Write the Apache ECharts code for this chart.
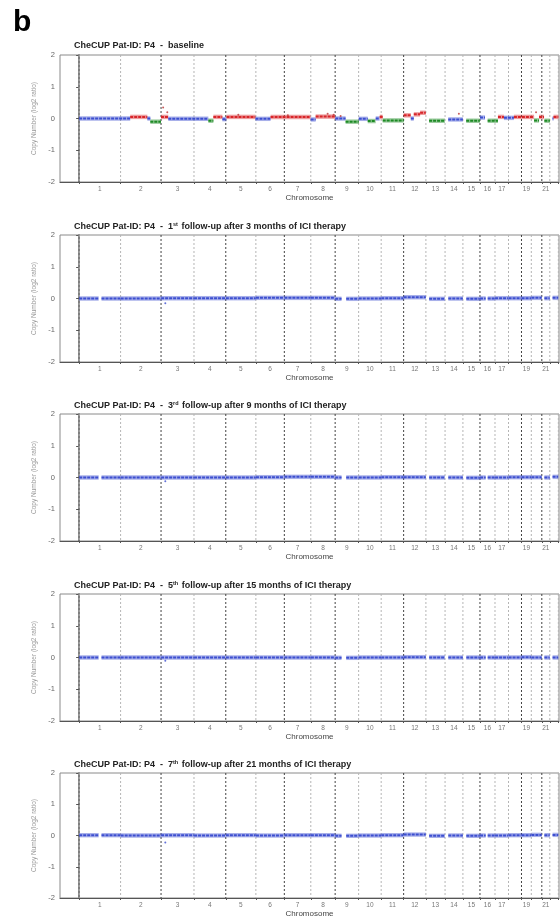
<!DOCTYPE html>
<html>
<head>
<meta charset="utf-8">
<script src="https://cdn.jsdelivr.net/npm/echarts@6/dist/echarts.min.js"></script>
<style>html,body{margin:0;padding:0;background:#fff;}#c{width:560px;height:919px;}</style>
</head>
<body>
<div id="c"></div>
<script>
// ---------- data ----------
const CHR_NAMES = ['1','2','3','4','5','6','7','8','9','10','11','12','13','14','15','16','17','18','19','20','21','22'];
const CHR_LEN_MB = [249.25,243.20,198.02,191.15,180.92,171.12,159.14,146.36,141.21,135.53,135.01,133.85,115.17,107.35,102.53,90.35,81.20,78.08,59.13,63.03,48.13,51.30];
const SHOWN_LABELS = ['1','2','3','4','5','6','7','8','9','10','11','12','13','14','15','16','17','19','21'];
const DARK_BOUNDARIES = [2,4,6,8,11,15,18,20]; // boundary index = end of chromosome n
const Y_TICKS = [-2,-1,0,1,2];

const PANEL_TITLES = [
  ['baseline', ''],
  ['1', 'st', ' follow-up after 3 months of ICI therapy'],
  ['3', 'rd', ' follow-up after 9 months of ICI therapy'],
  ['5', 'th', ' follow-up after 15 months of ICI therapy'],
  ['7', 'th', ' follow-up after 21 months of ICI therapy']
];

// baseline segments: [startMb(genome), endMb(genome), log2 ratio, state] state: 0 neutral,1 gain,2 loss
const BASELINE_SEGMENTS = [
  [0,307,0.0,0],[307,410,0.05,1],[410,428,0.0,0],[428,492,-0.1,2],[492,536,0.05,1],
  [536,777,-0.01,0],[777,807,-0.07,2],[807,861,0.05,1],[861,886,-0.02,0],[886,1060,0.05,1],
  [1060,1151,-0.01,0],[1151,1392,0.05,1],[1392,1422,-0.03,0],[1422,1540,0.06,1],[1540,1602,0.0,0],
  [1602,1681,-0.1,2],[1681,1735,-0.01,0],[1735,1783,-0.08,2],[1783,1807,0.0,0],[1807,1825,0.05,1],
  [1825,1951,-0.06,2],[1951,1994,0.1,1],[1994,2012,0.0,0],[2012,2050,0.13,1],[2050,2084,0.18,1],
  [2104,2199,-0.07,2],[2219,2307,-0.03,0],[2327,2409,-0.07,2],[2410,2440,0.03,0],[2456,2518,-0.07,2],
  [2518,2554,0.05,1],[2554,2614,0.02,0],[2614,2735,0.05,1],[2735,2765,-0.06,2],[2765,2795,0.05,1],
  [2797,2830,-0.07,2],[2846,2852,0.0,0],[2852,2881,0.05,1]
];
const BASELINE_OUTLIERS = [[505,0.35],[530,0.2],[957,0.12],[1494,0.15],[1530,0.12],[1572,0.08],[2283,0.15],[2747,0.2],[1255,0.1]];

// follow-up per chromosome log2 values (all neutral)
const FOLLOWUP_VALUES = [
  [0,0,0.01,0.01,0.01,0.02,0.02,0.02,-0.01,0,0.01,0.04,-0.01,0,-0.01,0,0.01,0.01,0.01,0.02,0.01,0.02],
  [0,0,0,0,0,0.01,0.02,0.02,0,0,0.01,0.01,0,0,-0.01,0,0,0.01,0.01,0.01,0,0.02],
  [0,0,0,0,0,0,0,0,-0.01,0,0,0.01,0,0,0,0,0,0,0.01,0,0,0],
  [0.01,0,0.01,0,0.01,0,0.01,0.01,-0.01,0,0.01,0.03,-0.01,0,-0.01,0,0,0.01,0.01,0.02,0.01,0.02]
];
const FOLLOWUP_OUTLIERS = [
  [[518,-0.15]],
  [[518,-0.12]],
  [[518,-0.1]],
  [[518,-0.22]]
];
// gaps (chromosome, startMb, endMb within chromosome) with no probes
const GAPS = [[1,118,134],[9,39,66],[13,0,19],[14,0,19],[15,0,20],[16,35,46],[21,0,15],[22,0,16]];

// ---------- derived genome coordinates ----------
const CHR_START = [];
let acc = 0;
CHR_LEN_MB.forEach(l => { CHR_START.push(acc); acc += l; });
const GENOME_END = acc;
const BOUNDARIES = [0].concat(CHR_START.slice(1), [GENOME_END]);
const CHR_MID = CHR_START.map((s, i) => s + CHR_LEN_MB[i] / 2);
const LABEL_VALUES = CHR_MID.filter((m, i) => SHOWN_LABELS.indexOf(CHR_NAMES[i]) >= 0);

function followSegments(vals) {
  const segs = [];
  CHR_LEN_MB.forEach((len, i) => {
    const chr = i + 1;
    let pieces = [[0, len]];
    GAPS.filter(g => g[0] === chr).forEach(g => {
      const np = [];
      pieces.forEach(p => {
        if (g[2] <= p[0] || g[1] >= p[1]) { np.push(p); return; }
        if (g[1] > p[0]) np.push([p[0], g[1]]);
        if (g[2] < p[1]) np.push([g[2], p[1]]);
      });
      pieces = np;
    });
    pieces.forEach(p => segs.push([CHR_START[i] + p[0] + 0.5, CHR_START[i] + p[1] - 0.5, vals[i], 0]));
  });
  return segs;
}

const PANEL_SEGMENTS = [BASELINE_SEGMENTS].concat(FOLLOWUP_VALUES.map(followSegments));
const PANEL_OUTLIERS = [BASELINE_OUTLIERS].concat(FOLLOWUP_OUTLIERS);

// ---------- layout ----------
const PLOT_TOP = [55, 235, 414, 594, 773];
const PLOT_H = 127;
const STATE_COLORS = ['#3d4fd0', '#d8262a', '#1d8a24'];

const grids = [], xAxes = [], yAxes = [], series = [], titles = [];
titles.push({ text: 'b', left: 8, top: 3, textStyle: { fontSize: 30, fontWeight: 'bold', color: '#000', fontFamily: 'Liberation Sans' } });

PLOT_TOP.forEach((top, k) => {
  grids.push({ left: 60, width: 499, top: top, height: PLOT_H, show: true, borderColor: '#8a8a8a', borderWidth: 1, backgroundColor: 'transparent' });
  const t = PANEL_TITLES[k];
  const text = k === 0
    ? '{b|CheCUP Pat-ID: P4  -  baseline}'
    : '{b|CheCUP Pat-ID: P4  -  ' + t[0] + '}{s|' + t[1] + '}{b|' + t[2] + '}';
  titles.push({
    text: text, left: 69, top: top - 19,
    textStyle: { rich: {
      b: { fontSize: 9, fontWeight: 'bold', color: '#222', fontFamily: 'Liberation Sans' },
      s: { fontSize: 5.5, fontWeight: 'bold', color: '#222', fontFamily: 'Liberation Sans', padding: [0, 1, 5, 0] }
    } }
  });
  xAxes.push({
    gridIndex: k, type: 'value', min: -115, max: 2885,
    name: 'Chromosome', nameLocation: 'middle', nameGap: 12,
    nameTextStyle: { fontSize: 8, color: '#444', fontFamily: 'Liberation Sans' },
    axisLine: { show: true, onZero: false, lineStyle: { color: '#555', width: 1.2 } },
    axisTick: { show: true, length: 2, customValues: BOUNDARIES, lineStyle: { color: '#555' } },
    axisLabel: { show: true, customValues: LABEL_VALUES, fontSize: 6.5, color: '#777', margin: 4, fontFamily: 'Liberation Sans',
      formatter: v => { let best = 0; CHR_MID.forEach((m, i) => { if (Math.abs(m - v) < Math.abs(CHR_MID[best] - v)) best = i; }); return CHR_NAMES[best]; } },
    splitLine: { show: false }
  });
  yAxes.push({
    gridIndex: k, type: 'value', min: Y_TICKS[0], max: Y_TICKS[Y_TICKS.length - 1], interval: 1,
    name: 'Copy Number (log2 ratio)', nameLocation: 'middle', nameGap: 19,
    nameTextStyle: { fontSize: 6.5, color: '#999', fontFamily: 'Liberation Sans' },
    axisLine: { show: true, lineStyle: { color: '#555', width: 1.5 } },
    axisTick: { show: true, length: 3, lineStyle: { color: '#555' } },
    axisLabel: { fontSize: 7.5, color: '#666', margin: 5, fontFamily: 'Liberation Sans' },
    splitLine: { show: false }
  });
  // chromosome boundary lines
  series.push({
    type: 'custom', xAxisIndex: k, yAxisIndex: k, silent: true, z: 1,
    data: BOUNDARIES.map((b, i) => [b, i]),
    renderItem: (params, api) => {
      const x = api.value(0), i = api.value(1);
      const p0 = api.coord([x, 2]), p1 = api.coord([x, -2]);
      const dark = DARK_BOUNDARIES.indexOf(i) >= 0;
      return { type: 'line', shape: { x1: p0[0], y1: p0[1], x2: p1[0], y2: p1[1] },
        style: { stroke: dark ? '#444' : '#b5b5b5', lineWidth: 1, lineDash: [2, 2] } };
    }
  });
  // segments (probe bands)
  series.push({
    type: 'custom', xAxisIndex: k, yAxisIndex: k, silent: true, z: 3,
    data: PANEL_SEGMENTS[k],
    encode: { x: [0, 1], y: 2 },
    renderItem: (params, api) => {
      const x0 = api.value(0), x1 = api.value(1), y = api.value(2), st = api.value(3);
      const a = api.coord([x0, y + 0.07]), b = api.coord([x1, y - 0.07]);
      const c0 = api.coord([x0, y]), c1 = api.coord([x1, y]);
      const col = STATE_COLORS[st];
      return { type: 'group', children: [
        { type: 'rect', shape: { x: a[0], y: a[1], width: b[0] - a[0], height: b[1] - a[1] }, style: { fill: col, opacity: 0.45 } },
        { type: 'line', shape: { x1: c0[0], y1: c0[1], x2: c1[0], y2: c1[1] }, style: { stroke: col, lineWidth: 2, lineDash: [3, 1] } }
      ] };
    }
  });
  series.push({
    type: 'scatter', xAxisIndex: k, yAxisIndex: k, silent: true, z: 3,
    symbolSize: 2, itemStyle: { color: k === 0 ? '#b33' : '#3d4fd0' },
    data: PANEL_OUTLIERS[k]
  });
});

const chart = echarts.init(document.getElementById('c'), null, { renderer: 'canvas' });
chart.setOption({
  animation: false,
  backgroundColor: '#fff',
  title: titles,
  grid: grids,
  xAxis: xAxes,
  yAxis: yAxes,
  series: series
});
</script>
</body>
</html>
